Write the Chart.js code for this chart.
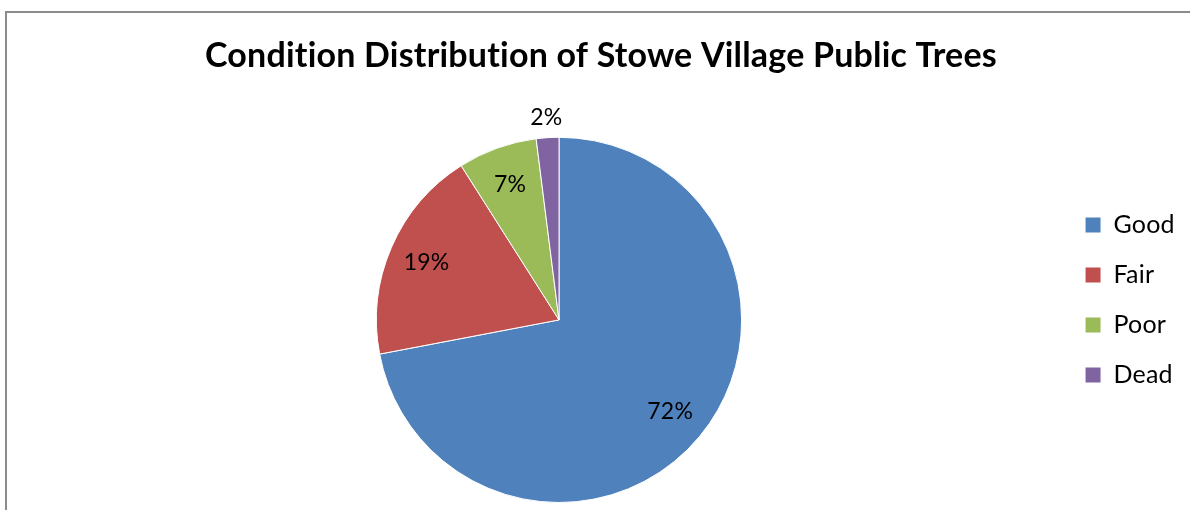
<!DOCTYPE html>
<html>
<head>
<meta charset="utf-8">
<script src="https://cdn.jsdelivr.net/npm/chart.js@4.4.1/dist/chart.umd.min.js"></script>
<style>
    body { margin: 0; background: #fff; }
    #frame {
        position: absolute; left: 5px; top: 11px; width: 1190px; height: 510px;
        border-left: 2px solid #8c8c8c; border-top: 2px solid #8c8c8c;
    }
    #wrap { position: absolute; left: 0; top: 0; width: 1190px; height: 510px; }
</style>
</head>
<body>
<div id="frame"></div>
<div id="wrap"><canvas id="pieChart"></canvas></div>
<script>
const conditions = ['Good', 'Fair', 'Poor', 'Dead'];
const percentages = [72, 19, 7, 2];
const sliceColors = ['#4F81BD', '#C0504D', '#9BBB59', '#8064A2'];

// tiny letter spacing keeps Lato from drawing "ti"/"fi" ligatures
const noLigatures = {
    id: 'noLigatures',
    beforeDraw(chart) {
        chart.ctx.letterSpacing = '0.2px';
    }
};

// Excel centres the title on the whole frame, not beside the legend
const centerTitle = {
    id: 'centerTitle',
    afterLayout(chart) {
        chart.titleBlock.left = 0;
        chart.titleBlock.right = 1202;
    }
};

// draws the percent labels like Excel's "best fit"
const sliceLabels = {
    id: 'sliceLabels',
    afterDatasetsDraw(chart) {
        const ctx = chart.ctx;
        const meta = chart.getDatasetMeta(0);
        ctx.save();
        ctx.font = '23px Lato';
        ctx.fillStyle = '#000';
        ctx.textAlign = 'center';
        ctx.textBaseline = 'middle';
        meta.data.forEach((arc, i) => {
            const p = arc.getProps(['x', 'y', 'startAngle', 'endAngle', 'outerRadius'], true);
            const mid = (p.startAngle + p.endAngle) / 2;
            const r = percentages[i] < 5 ? p.outerRadius + 20 : p.outerRadius * 0.79;
            ctx.fillText(percentages[i] + '%', p.x + Math.cos(mid) * r, p.y + Math.sin(mid) * r);
        });
        ctx.restore();
    }
};

new Chart(document.getElementById('pieChart'), {
    type: 'pie',
    data: {
        labels: conditions,
        datasets: [{
            data: percentages,
            backgroundColor: sliceColors,
            borderColor: '#ffffff',
            borderWidth: 1
        }]
    },
    options: {
        responsive: true,
        maintainAspectRatio: false,
        animation: false,
        layout: { padding: { left: 58, right: 6, top: 0, bottom: 7 } },
        plugins: {
            title: {
                display: true,
                text: 'Condition Distribution of Stowe Village Public Trees',
                color: '#000',
                font: { family: 'Lato', size: 34, weight: 'bold' },
                padding: { top: 36, bottom: 60 }
            },
            legend: {
                position: 'right',
                title: {
                    display: true,
                    text: '',
                    font: { size: 10 },
                    padding: { top: 85, bottom: 0 }
                },
                labels: {
                    color: '#000',
                    font: { family: 'Lato', size: 25 },
                    boxWidth: 16,
                    boxHeight: 16,
                    padding: 25
                }
            },
            tooltip: { enabled: false }
        }
    },
    plugins: [noLigatures, centerTitle, sliceLabels]
});
</script>
</body>
</html>
